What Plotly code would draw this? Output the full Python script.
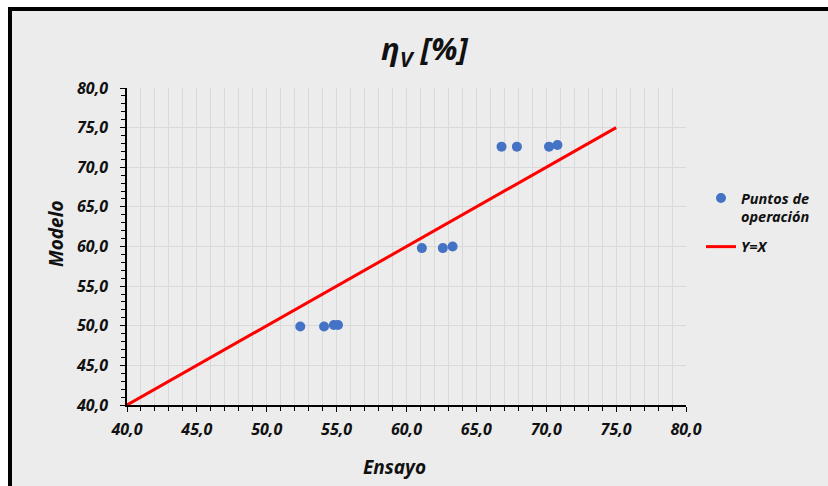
import plotly.graph_objects as go

# Data
ensayo = [52.4, 54.1, 54.8, 55.1, 61.1, 62.6, 63.3, 66.8, 67.9, 70.2, 70.8]
modelo = [49.9, 49.9, 50.1, 50.1, 59.8, 59.8, 60.0, 72.6, 72.6, 72.6, 72.8]
line_x = [40, 75]
line_y = [40, 75]
series_names = ["Puntos de<br>operación", "Y=X"]

FONT = "Noto Sans"
TXT = "#111111"
BG = "#ececec"
GRID = "#d9d9d9"

L, R, T, B = 127, 686, 88, 405
W, H = R - L, B - T

def px(x):
    return (x - L) / W

def py(y):
    return (B - y) / H

fig = go.Figure()
fig.add_trace(go.Scatter(
    x=ensayo, y=modelo, mode="markers", name=series_names[0], legendgroup="a",
    marker=dict(color="#4472c4", size=10),
))
fig.add_trace(go.Scatter(
    x=line_x, y=line_y, mode="lines", name=series_names[1], legendgroup="b",
    line=dict(color="#ff0000", width=3),
))

tickfont = dict(family=FONT, size=16, color=TXT, weight="bold", style="italic")

fig.update_layout(
    width=828, height=486,
    margin=dict(l=L, r=828 - R, t=T, b=486 - B),
    paper_bgcolor="white",
    plot_bgcolor=BG,
    separators=",.",
    showlegend=True,
    legend=dict(
        x=px(701), y=py(182), xanchor="left", yanchor="top",
        bgcolor="rgba(0,0,0,0)", valign="top",
        font=dict(family=FONT, size=14.5, color=TXT, weight="bold", style="italic"),
        tracegroupgap=8,
    ),
    xaxis=dict(
        range=[40, 80], dtick=5, tick0=40, tickformat=".1f",
        showgrid=True, gridcolor=GRID, gridwidth=1,
        showline=True, linecolor="black", linewidth=1.5,
        ticks="outside", ticklen=5, tickcolor="black", tickwidth=1,
        ticklabelstandoff=4,
        minor=dict(dtick=1, showgrid=True, gridcolor=GRID, gridwidth=1,
                   ticks="outside", ticklen=4, tickcolor="black"),
        tickfont=tickfont, zeroline=False, fixedrange=True,
    ),
    yaxis=dict(
        range=[40, 80], dtick=5, tick0=40, tickformat=".1f",
        showgrid=True, gridcolor=GRID, gridwidth=1,
        showline=True, linecolor="black", linewidth=1.5,
        ticks="outside", ticklen=5, tickcolor="black", tickwidth=1,
        ticklabelstandoff=9,
        minor=dict(dtick=1, showgrid=False,
                   ticks="outside", ticklen=4, tickcolor="black"),
        tickfont=tickfont, zeroline=False, fixedrange=True,
    ),
    shapes=[dict(
        type="rect", xref="paper", yref="paper", layer="below",
        x0=px(10), x1=px(845), y0=py(505), y1=py(9),
        fillcolor=BG, line=dict(color="black", width=4),
    )],
    annotations=[
        dict(text="η<sub>V</sub> [%]", xref="paper", yref="paper",
             x=px(424), y=py(50), showarrow=False, xanchor="center", yanchor="middle",
             font=dict(family=FONT, size=31, color=TXT, weight="bold", style="italic")),
        dict(text="Ensayo", xref="paper", yref="paper",
             x=px(394), y=py(467), showarrow=False, xanchor="center", yanchor="middle",
             font=dict(family=FONT, size=19, color=TXT, weight="bold", style="italic")),
        dict(text="Modelo", xref="paper", yref="paper", textangle=-90,
             x=px(56), y=py(234), showarrow=False, xanchor="center", yanchor="middle",
             font=dict(family=FONT, size=19, color=TXT, weight="bold", style="italic")),
    ],
)

fig.write_html("out.html")
